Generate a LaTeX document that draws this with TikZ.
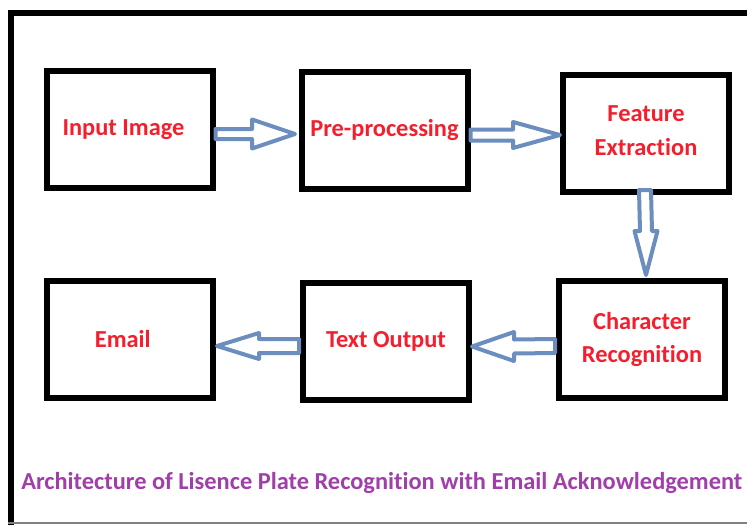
\documentclass[tikz,border=0pt]{standalone}
\usepackage{fontspec}
\setmainfont{Carlito}[Ligatures=NoCommon]
\usetikzlibrary{calc}
\definecolor{boxred}{RGB}{245,30,45}
\definecolor{capurple}{RGB}{160,62,170}
\definecolor{arrowblue}{RGB}{108,142,190}
\tikzset{
  stepbox/.style={draw=black, line width=4.5pt, fill=white, minimum width=124.5pt, minimum height=87.75pt,
    inner sep=0pt, align=center, text=boxred, font=\fontsize{18.3}{24.5}\selectfont\bfseries},
  barrow/.style={draw=arrowblue, fill=white, line width=3pt, line join=round},
  caption/.style={text=capurple, font=\fontsize{18.3}{24}\selectfont\bfseries, inner sep=0pt}
}
\newcommand\harrow[5]{\draw[barrow] ($(#1)+(0,{-(#3)})$) -- ($(#2)+({-(#5)},{-(#3)})$) -- ($(#2)+({-(#5)},{-(#4)})$) -- (#2) -- ($(#2)+({-(#5)},{#4})$) -- ($(#2)+({-(#5)},{#3})$) -- ($(#1)+(0,{#3})$) -- cycle;}
\newcommand\varrow[5]{\draw[barrow] ($(#1)+({-(#3)},0)$) -- ($(#2)+({-(#3)},{-(#5)})$) -- ($(#2)+({-(#4)},{-(#5)})$) -- (#2) -- ($(#2)+({#4},{-(#5)})$) -- ($(#2)+({#3},{-(#5)})$) -- ($(#1)+({#3},0)$) -- cycle;}
\begin{document}
\begin{tikzpicture}[x=0.75pt, y=-0.75pt]
\useasboundingbox (0,0) rectangle (747,525);
\clip (0,0) rectangle (747,525);
\fill[white] (0,0) rectangle (747,525);
% outer frame
\draw[line width=4.5pt] (10.5,540) -- (10.5,12.5) -- (770,12.5);
\draw[gray, line width=1.5pt] (8,523) -- (770,523);
% boxes
\node[stepbox] (in)   at (129.5,129.5) {Input Image\hspace*{9pt}};
\node[stepbox] (pre)  at (384.5,130.5) {Pre-processing};
\node[stepbox] (feat) at (646,133.5)   {Feature\\[1pt]Extraction\\[-20pt]\mbox{}};
\node[stepbox] (char) at (642,339.5)   {Character\\Recognition};
\node[stepbox] (txt)  at (386,341)     {Text Output};
\node[stepbox] (mail) at (129.5,339.5) {Email\hspace*{10pt}};
% arrow end points
\coordinate (a1s) at ($(in.east)+(0,4.5)$);
\coordinate (a1t) at ($(pre.west)+(-3.5,3.5)$);
\coordinate (a2s) at ($(pre.east)+(0,4.5)$);
\coordinate (a2t) at ($(feat.west)+(0,1.5)$);
\coordinate (a3s) at ($(feat.south)+(-1,-5)$);
\coordinate (a3t) at ($(char.north)+(4,-3)$);
\coordinate (a4s) at ($(char.west)+(-1,6.5)$);
\coordinate (a4t) at ($(txt.east)+(0,5.5)$);
\coordinate (a5s) at ($(txt.west)+(-1,5)$);
\coordinate (a5t) at ($(mail.east)+(1.5,6.5)$);
\harrow{a1s}{a1t}{5}{14.5}{43}
\harrow{a2s}{a2t}{5.5}{13}{47}
\varrow{a3s}{a3t}{6}{11.5}{44}
\harrow{a4s}{a4t}{7}{14.5}{-42}
\harrow{a5s}{a5t}{7}{13}{-42}
% caption
\node[caption, anchor=base west] (cap) at (21,489) {Architecture of Lisence Plate Recognition with Email Acknowledgement};
\end{tikzpicture}
\end{document}
